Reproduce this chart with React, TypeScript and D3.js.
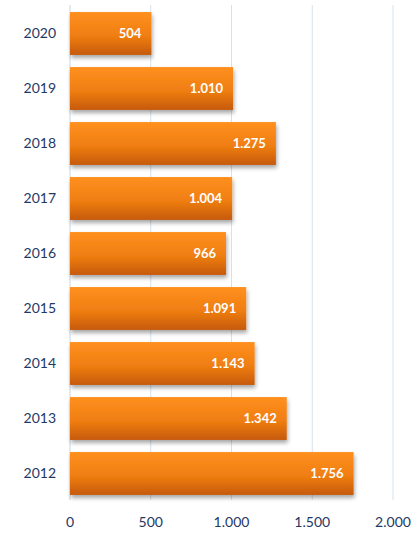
import React from "react";
import * as d3 from "d3";

const years = ["2020", "2019", "2018", "2017", "2016", "2015", "2014", "2013", "2012"];
const values = [504, 1010, 1275, 1004, 966, 1091, 1143, 1342, 1756];
const ticks = [0, 500, 1000, 1500, 2000];

const fmt = (v: number) => d3.format(",")(v).replace(/,/g, ".");

export default function App() {
  const W = 417, H = 534;
  const x = d3.scaleLinear().domain([0, 2000]).range([70, 393]);
  const y = d3.scaleBand().domain(years).range([6, 501]).paddingInner(0.22).paddingOuter(0.11);
  const font = "Lato, 'Open Sans', sans-serif";
  return (
    <svg width={W} height={H} style={{ position: "absolute", left: 0, top: 0 }}>
      <defs>
        <linearGradient id="barg" x1="0" y1="0" x2="0" y2="1">
          <stop offset="0" stopColor="#FF9020" />
          <stop offset="0.55" stopColor="#F07E12" />
          <stop offset="1" stopColor="#C65A08" />
        </linearGradient>
        <filter id="sh" x="-5%" y="-20%" width="115%" height="160%">
          <feGaussianBlur in="SourceAlpha" stdDeviation="2" />
          <feOffset dx="1" dy="3" result="b" />
          <feComponentTransfer><feFuncA type="linear" slope="0.35" /></feComponentTransfer>
          <feMerge><feMergeNode /><feMergeNode in="SourceGraphic" /></feMerge>
        </filter>
      </defs>
      {ticks.map((t) => (
        <line key={t} x1={x(t)} x2={x(t)} y1={5} y2={500} stroke={t === 0 ? "#C9D5E6" : "#D6E1EF"} strokeWidth={1} />
      ))}
      {years.map((yr, i) => (
        <g key={yr}>
          <rect x={x(0)} y={y(yr)!} width={x(values[i]) - x(0)} height={y.bandwidth()} fill="url(#barg)" filter="url(#sh)" />
          <text x={x(values[i]) - 10} y={y(yr)! + y.bandwidth() / 2} dy="0.35em" textAnchor="end" fill="#fff" fontWeight="bold" fontSize={13} fontFamily={font}>
            {fmt(values[i])}
          </text>
          <text x={56} y={y(yr)! + y.bandwidth() / 2} dy="0.35em" textAnchor="end" fill="#1F3864" fontSize={14} fontFamily={font}>
            {yr}
          </text>
        </g>
      ))}
      {ticks.map((t) => (
        <text key={t} x={x(t)} y={522} dy="0.35em" textAnchor="middle" fill="#1F3864" fontSize={14} fontFamily={font}>
          {fmt(t)}
        </text>
      ))}
    </svg>
  );
}
